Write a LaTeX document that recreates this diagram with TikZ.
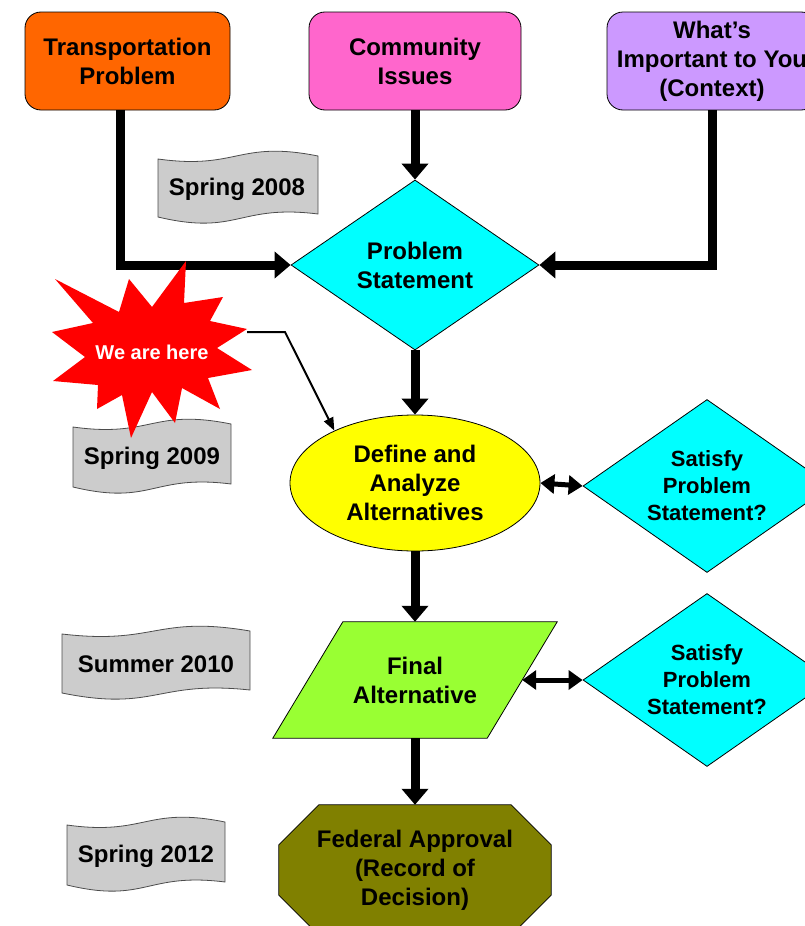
\documentclass[tikz,border=0pt]{standalone}
\usepackage{fontspec}
\setmainfont{Liberation Sans}
\usetikzlibrary{arrows.meta,shapes.geometric,backgrounds}
\definecolor{orng}{HTML}{FF6600}
\definecolor{pinkc}{HTML}{FF66CC}
\definecolor{lilac}{HTML}{CC99FF}
\definecolor{cyanc}{HTML}{00FFFF}
\definecolor{yelc}{HTML}{FFFF00}
\definecolor{limeg}{HTML}{99FF33}
\definecolor{olivec}{HTML}{808000}
\definecolor{flaggray}{HTML}{CCCCCC}
\definecolor{redc}{HTML}{FF0000}
\newcommand{\lblfont}{\fontsize{24pt}{29pt}\selectfont\bfseries}
\newcommand{\satfont}{\fontsize{22pt}{27pt}\selectfont\bfseries}
\newcommand{\herefont}{\fontsize{20pt}{24pt}\selectfont\bfseries}
\newcommand{\flagpath}[4]{%
  \filldraw[flag] (#1,#3+7) .. controls ({(#1+#2)/2},#3+18) and ({(#1+#2)/2},#3-12) .. (#2,#3+4)
    -- (#2,#4-8) .. controls ({(#1+#2)/2},#4-18) and ({(#1+#2)/2},#4+14) .. (#1,#4-5) -- cycle;}
\begin{document}
\begin{tikzpicture}[x=1pt,y=-1pt,
  lbl/.style={font=\lblfont, align=center, text=black},
  rbox/.style={lbl, draw=black, line width=0.8pt, rounded corners=16pt, minimum width=#1, minimum height=98pt, inner sep=0pt},
  dia/.style={lbl, diamond, draw=black, line width=0.8pt, fill=cyanc, inner sep=0pt},
  bigarrow/.style={line width=9pt, -{Triangle[length=16pt,width=26pt]}},
  dblarrow/.style={line width=5pt, {Triangle[length=14pt,width=19pt]}-{Triangle[length=14pt,width=19pt]}},
  ptr/.style={line width=2pt, -{Triangle[length=13pt,width=10pt]}},
  flag/.style={fill=flaggray, draw=black!70, line width=0.8pt},
  shapeline/.style={draw=black, line width=0.8pt}
]
\useasboundingbox (0,0) rectangle (804,926);

% banners
\flagpath{158}{318}{152}{222}
\node[lbl] (s2008) at (237,189) {Spring 2008};
\flagpath{73}{231}{420}{492}
\node[lbl] (s2009) at (152,458) {Spring 2009};
\flagpath{62}{250}{627}{698}
\node[lbl] (s2010) at (156,664) {Summer 2010};
\flagpath{67}{225}{818}{890}
\node[lbl] (s2012) at (146,856) {Spring 2012};

% top boxes
\node[rbox=205pt, fill=orng] (transp) at (127.5,61) {Transportation\\Problem};
\node[rbox=212pt, fill=pinkc] (comm) at (415,61) {Community\\Issues};
\node[rbox=210pt, fill=lilac] (what) at (712,61) {What’s\\Important to You\\(Context)};

% flow shapes
\node[dia, minimum width=248pt, minimum height=170pt, shape aspect=1.46] (problem) at (415,265) {Problem\\Statement};
\node[lbl, ellipse, draw=black, line width=0.8pt, fill=yelc, minimum width=250pt, minimum height=136pt, inner sep=0pt] (define) at (415,483) {Define and\\Analyze\\Alternatives};
\node[lbl, minimum width=214pt, minimum height=116pt, inner sep=0pt] (final) at (415,680) {Final\\Alternative};
\node[lbl, minimum width=272pt, minimum height=130pt, inner sep=0pt] (fed) at (415,870) {Federal Approval\\(Record of\\Decision)};
\node[dia, font=\satfont, minimum width=248pt, minimum height=173pt, shape aspect=1.43] (sat1) at (707,486) {Satisfy\\Problem\\Statement?};
\node[dia, font=\satfont, minimum width=248pt, minimum height=173pt, shape aspect=1.43] (sat2) at (707,680) {Satisfy\\Problem\\Statement?};

\begin{scope}[on background layer]
  \filldraw[shapeline, fill=limeg] ([xshift=35pt]final.north west) -- ([xshift=35pt]final.north east)
    -- ([xshift=-35pt]final.south east) -- ([xshift=-35pt]final.south west) -- cycle;
  \filldraw[shapeline, fill=olivec] ([xshift=40pt]fed.north west) -- ([xshift=-40pt]fed.north east)
    -- ([yshift=-40pt]fed.north east) -- ([yshift=40pt]fed.south east)
    -- ([xshift=-40pt]fed.south east) -- ([xshift=40pt]fed.south west)
    -- ([yshift=40pt]fed.south west) -- ([yshift=-40pt]fed.north west) -- cycle;
\end{scope}

% connectors
\draw[bigarrow] ([xshift=-7pt]transp.south) |- (problem.west);
\draw[bigarrow] (comm.south) -- (problem.north);
\draw[bigarrow] (what.south) |- (problem.east);
\draw[bigarrow] (problem.south) -- (define.north);
\draw[bigarrow] (define.south) -- (final.north);
\draw[bigarrow] (final.south) -- (fed.north);
\draw[dblarrow] (define.east) -- (sat1.west);
\draw[dblarrow] (final.east) -- (sat2.west);

% star
\fill[redc] (186,261) -- (184,303) -- (223,297) -- (210,321) -- (247,329) -- (217,348)
  -- (252,370) -- (208,378) -- (220,409) -- (182,388) -- (175,423) -- (152,392)
  -- (131,438) -- (122,395) -- (97,409) -- (98,385) -- (53,381) -- (85,357)
  -- (52,332) -- (93,323) -- (55,279) -- (119,312) -- (129,279) -- (152,307) -- cycle;
\node[font=\herefont, text=white] (here) at (152,352) {We are here};
\coordinate (heretip) at (247,332);
\coordinate (bend) at (285,332);
\draw[ptr] (heretip) -- (bend) -- (define.147);
\end{tikzpicture}
\end{document}
